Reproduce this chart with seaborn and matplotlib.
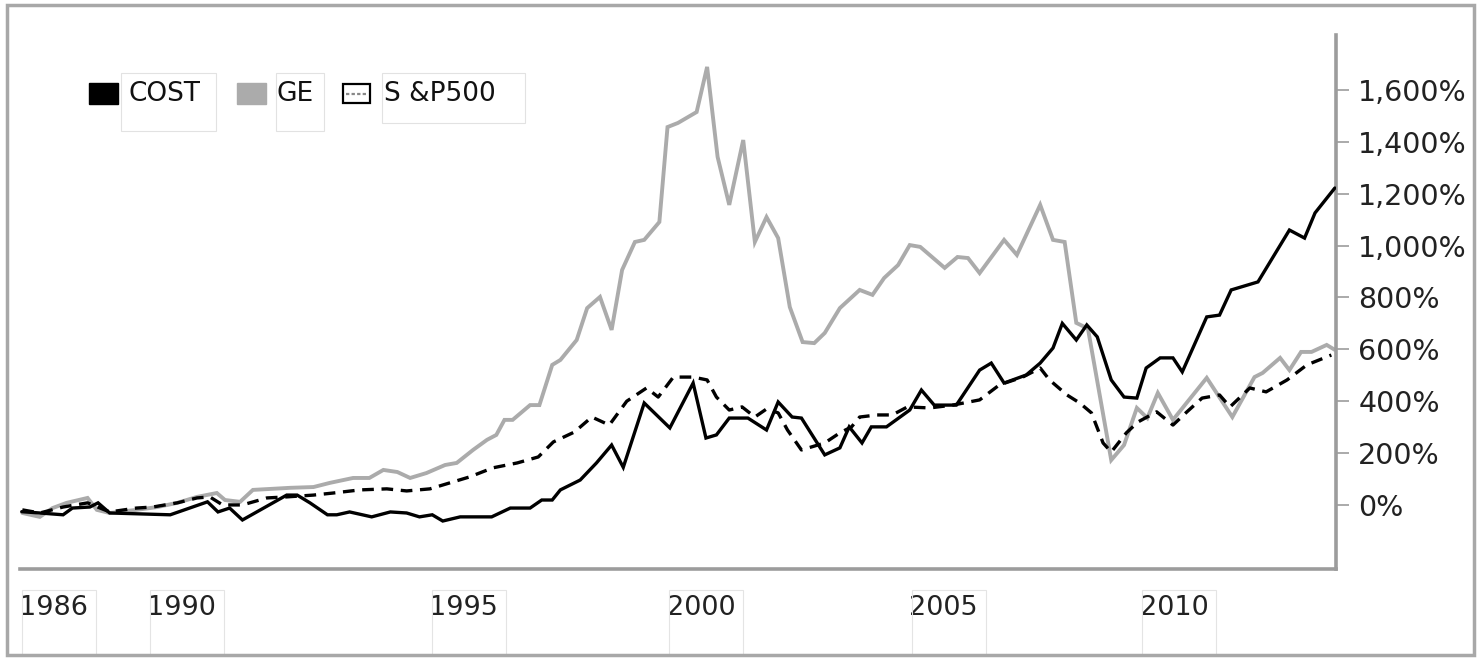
import numpy as np
import pandas as pd
import seaborn as sns
import matplotlib.pyplot as plt
from matplotlib.patches import Rectangle
from matplotlib.lines import Line2D
from matplotlib.ticker import FuncFormatter

# x is the position along the (quarterly) time axis, y is cumulative return in %
cost_t = [0.15, 1.7, 3.7, 4.5, 6.0, 6.7, 7.7, 12.9, 16.1, 17.0, 18.0, 19.1, 22.9, 23.8,
          24.9, 26.4, 27.2, 28.3, 30.2, 31.8, 33.2, 34.3, 35.4, 36.3, 37.8, 40.5, 42.1,
          43.8, 44.8, 45.7, 46.4, 48.1, 49.5, 50.8, 51.8, 53.6, 55.8, 57.8, 58.9, 59.8,
          60.9, 62.5, 64.1, 65.1, 66.3, 67.1, 69.1, 70.4, 71.2, 72.3, 73.1, 74.4, 76.4,
          77.4, 78.5, 80.4, 82.4, 83.4, 84.5, 86.4, 87.6, 88.7, 89.5, 90.7, 91.6, 92.5,
          93.7, 94.8, 95.9, 96.7, 97.9, 99.0, 99.8, 101.9, 103.0, 104.0, 106.3, 109.0,
          110.3, 111.2, 112.9]
cost_v = [-26, -31, -38, -12, -8, 8, -31, -38, 12, -27, -12, -58, 38, 38,
          8, -38, -38, -27, -46, -27, -31, -46, -38, -62, -46, -46, -12,
          -12, 19, 19, 58, 96, 162, 231, 145, 393, 297, 470, 258, 270,
          335, 335, 289, 397, 339, 335, 193, 220, 301, 239, 301, 301, 366,
          443, 385, 385, 520, 547, 470, 501, 547, 605, 700, 636, 694, 648,
          482, 416, 412, 528, 567, 567, 513, 725, 732, 829, 860, 1060,
          1029, 1126, 1222]

ge_t = [0.2, 1.7, 2.8, 4.0, 5.8, 6.6, 7.7, 10.0, 11.8, 13.5, 15.2, 16.9, 17.6, 18.9,
        20.0, 23.2, 25.2, 26.6, 28.6, 30.0, 31.2, 32.4, 33.5, 34.9, 36.5, 37.5, 38.9,
        40.1, 40.9, 41.6, 42.3, 43.8, 44.6, 45.7, 46.4, 47.8, 48.7, 49.8, 50.8, 51.7,
        52.8, 53.6, 54.9, 55.6, 56.5, 58.1, 59.0, 59.9, 60.9, 62.1, 63.1, 64.1, 65.1,
        66.1, 67.2, 68.2, 69.1, 70.4, 72.1, 73.2, 74.2, 75.4, 76.4, 77.3, 79.4, 80.5,
        81.4, 82.4, 84.5, 85.6, 87.6, 88.7, 89.7, 90.7, 91.7, 93.7, 94.8, 95.9, 96.8,
        97.7, 99.0, 101.9, 104.1, 106.0, 106.7, 108.2, 109.0, 110.0, 110.9, 112.2, 112.9]
ge_v = [-31, -46, -12, 8, 27, -19, -31, -19, -8, 8, 31, 46, 19, 12,
        58, 66, 69, 85, 104, 104, 135, 127, 104, 123, 154, 162, 212,
        251, 270, 328, 328, 385, 385, 540, 559, 636, 759, 802, 675, 906,
        1014, 1022, 1091, 1457, 1473, 1515, 1689, 1342, 1157, 1407, 1014, 1110, 1029,
        763, 628, 624, 663, 759, 829, 810, 875, 925, 1002, 995, 914, 956,
        952, 894, 1022, 964, 1157, 1022, 1014, 702, 680, 173, 231, 374, 335,
        432, 328, 490, 339, 493, 509, 567, 520, 590, 590, 617, 598]

sp_t = [0.2, 1.7, 3.7, 5.8, 7.7, 10.0, 11.4, 13.5, 15.2, 16.3, 17.4, 19.1, 21.2, 22.9,
        25.2, 26.9, 29.2, 31.5, 33.2, 35.2, 36.9, 38.6, 40.6, 42.7, 44.5, 45.8, 47.6,
        49.1, 50.6, 52.1, 53.8, 54.8, 56.1, 57.8, 59.0, 59.8, 60.9, 62.0, 63.1, 64.1,
        65.1, 65.9, 67.1, 69.1, 70.4, 71.4, 72.1, 73.6, 74.9, 76.2, 78.1, 80.1, 82.4,
        84.1, 86.1, 87.6, 88.4, 89.9, 91.0, 92.0, 93.0, 93.7, 95.0, 96.0, 97.6, 99.0,
        100.2, 101.5, 103.0, 103.9, 105.6, 107.0, 108.8, 110.5, 112.6]
sp_v = [-19, -31, -8, 8, -27, -12, -8, 8, 27, 31, 0, 0, 27, 31,
        38, 46, 58, 62, 54, 62, 85, 108, 143, 162, 185, 243, 281,
        339, 308, 400, 451, 416, 493, 493, 482, 416, 366, 378, 339, 370,
        355, 289, 212, 239, 278, 301, 339, 347, 347, 378, 374, 385, 405,
        463, 493, 528, 482, 424, 393, 355, 239, 204, 278, 320, 359, 308,
        359, 412, 424, 378, 451, 436, 482, 540, 578]

year_ticks = [2.9, 13.9, 38.1, 58.5, 79.3, 99.1]
year_labels = ['1986', '1990', '1995', '2000', '2005', '2010']
pct_ticks = [0, 200, 400, 600, 800, 1000, 1200, 1400, 1600]

df = pd.concat([
    pd.DataFrame({'t': cost_t, 'ret': cost_v, 'series': 'COST'}),
    pd.DataFrame({'t': ge_t, 'ret': ge_v, 'series': 'GE'}),
    pd.DataFrame({'t': sp_t, 'ret': sp_v, 'series': 'S&P500'}),
])

sns.set_style('white')
plt.rcParams['font.family'] = ['DejaVu Sans']

W, H = 1481, 659
fig = plt.figure(figsize=(W / 100, H / 100), dpi=100)
ax = fig.add_axes([20 / W, 1 - 569 / H, (1336 - 20) / W, (569 - 35) / H])

palette = {'COST': 'black', 'GE': '#ababab', 'S&P500': 'black'}
dashes = {'COST': '', 'GE': '', 'S&P500': (3.5, 2.3)}
sns.lineplot(data=df, x='t', y='ret', hue='series', style='series', palette=palette,
             dashes=dashes, estimator=None, sort=False, legend=False, ax=ax)
widths = {'COST': 2.4, 'GE': 2.8, 'S&P500': 2.4}
order = {'COST': 3, 'GE': 2, 'S&P500': 2.5}
for line, name in zip(ax.get_lines(), ['COST', 'GE', 'S&P500']):
    line.set_linewidth(widths[name])
    line.set_zorder(order[name])
    line.set_solid_joinstyle('miter')

ax.set_xlim(0, 113)
ax.set_ylim(-247, 1812)
ax.set_xlabel('')
ax.set_ylabel('')

for s in ['left', 'top']:
    ax.spines[s].set_visible(False)
for s in ['right', 'bottom']:
    ax.spines[s].set_color('#9c9c9c')
    ax.spines[s].set_linewidth(2.6)

ax.yaxis.tick_right()
ax.set_yticks(pct_ticks)
ax.yaxis.set_major_formatter(FuncFormatter(lambda v, p: f'{int(v):,}%'))
ax.set_xticks(year_ticks)
ax.set_xticklabels(year_labels)
ax.tick_params(axis='y', direction='out', length=9, width=1.2, color='#9c9c9c',
               pad=7, labelsize=20.5, labelcolor='#222222')
ax.tick_params(axis='x', direction='out', length=9, width=1.2, color='#9c9c9c',
               pad=10, labelsize=19.5, labelcolor='#222222')
ax.grid(False)


def px_rect(x0, y0, x1, y1, **kw):
    # rectangle given in picture pixels (top-left origin)
    return Rectangle((x0 / W, 1 - y1 / H), (x1 - x0) / W, (y1 - y0) / H,
                     transform=fig.transFigure, **kw)


# faint boxes under the year labels
fig.canvas.draw()
for t in year_ticks:
    xp = ax.transData.transform((t, 0))[0]
    fig.patches.append(px_rect(xp - 32, 590, xp + 42, 655, fill=False,
                               edgecolor='#e4e4e4', linewidth=0.8))

# legend
fig.patches.append(px_rect(89, 83, 118, 104, facecolor='black', edgecolor='black'))
fig.patches.append(px_rect(237, 83, 266, 104, facecolor='#ababab', edgecolor='#ababab'))
fig.patches.append(px_rect(343, 84, 370, 103, facecolor='white', edgecolor='black',
                           linewidth=1.6))
fig.lines.append(Line2D([346 / W, 367 / W], [1 - 93.5 / H, 1 - 93.5 / H],
                        transform=fig.transFigure, color='#888888', linewidth=1.6,
                        linestyle=(0, (1.5, 1))))
for (x0, x1, y1) in [(121, 216, 131), (276, 324, 131), (382, 525, 123)]:
    fig.patches.append(px_rect(x0, 73, x1, y1, fill=False, edgecolor='#e2e2e2',
                               linewidth=0.8))
for x, txt in [(128, 'COST'), (277, 'GE'), (384, 'S &P500')]:
    fig.text(x / W, 1 - 94 / H, txt, fontsize=19, color='#111111', va='center',
             ha='left')

# outer frame
fig.patches.append(px_rect(7, 5, 1474, 655, fill=False, edgecolor='#a8a8a8',
                           linewidth=2.5))

fig.savefig('out.png', dpi=100)
